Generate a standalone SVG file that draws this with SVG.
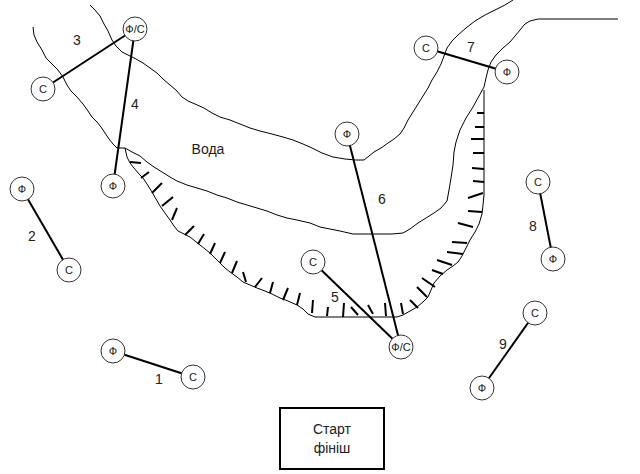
<svg xmlns="http://www.w3.org/2000/svg" width="640" height="474" viewBox="0 0 640 474">
<style>
.bank{fill:none;stroke:#000;stroke-width:1;stroke-linejoin:round}
.hach{fill:none;stroke:#000;stroke-width:2;stroke-linecap:butt}
.con{stroke:#000;stroke-width:2}
.node circle{fill:#fff;stroke:#333;stroke-width:1}
.ntxt{font-family:"Liberation Sans",Arial,sans-serif;font-size:11px;fill:#222;text-anchor:middle}
.lbl{font-family:"Liberation Sans",Arial,sans-serif;font-size:14px;fill:#222;text-anchor:middle}
.box{fill:#fff;stroke:#000;stroke-width:2}
</style>
<rect width="640" height="474" fill="#fff"/>
<g id="river">
<path class="bank" d="M90,5 L95,10 100,16 104,24 108,31 112,40 116,46 122,52 130,56 136,59 143,63 150,68 157,73 163,79 170,85 176,90 182,97 188,101 195,104 204,108 212,113 220,117 230,120 240,124 250,128 260,131 272,134 283,137 293,140 303,144 312,148 322,153 333,157 345,159 356,160 364,160 369,156 374,152 381,148 388,143 394,139 400,134 404,128 408,120 413,112 418,104 423,96 428,88 432,80 437,72 441,64 444,56 447,48 452,41 458,35 466,28 475,21 485,15 495,10 505,5 513,0"/>
<path class="bank" d="M33,27 L34,35 37,42 42,50 46,58 52,64 58,70 63,77 67,85 71,91 77,97 83,104 88,111 92,117 97,122 101,127 105,133 109,139 113,144 117,148 125,148 132,152 140,156 147,162 154,167 162,172 170,177 177,181 187,185 197,188 207,191 217,195 227,198 237,202 247,205 257,208 267,211 277,215 287,218 297,220 310,223 320,227 330,229 340,231 353,234 365,234 380,234 392,234 403,233 410,229 418,223 426,218 434,213 441,208 447,201 449,190 451,178 453,165 454,152 456,142 460,130 466,118 473,107 479,96 484,87 486,78 488,70 491,62 496,55 503,48 510,42 515,36 520,30 525,24 530,21 538,19 L618,19"/>
<path class="bank" d="M125,148 L127,157 130,163 134,168 139,174 143,178 147,184 152,192 156,199 160,206 165,213 170,220 174,226 178,231 184,234 190,237 195,241 200,245 205,249 210,253 215,258 220,263 225,268 230,272 237,277 243,282 250,285 257,288 265,291 272,294 280,298 288,301 297,305 303,309 308,314 315,317 L397,317 403,315 410,311 417,307 423,302 428,297 431,290 434,283 440,276 447,270 453,266 458,262 462,256 466,248 470,240 475,232 479,224 482,214 483,205 484,195 484,180 484,160 484,140 484,120 484,100 484,90"/>
<path class="hach" d="M130,162 L141,163 M141,178 L149,172 M152,193 L162,183 M162,206 L173,197 M172,220 L177,208 M185,235 L194,226 M198,244 L204,234 M210,254 L215,243 M220,263 L225,252 M232,273 L237,261 M243,272 L246,282 M255,287 L262,278 M270,293 L273,282 M283,300 L288,288 M297,305 L300,293 M312,313 L313,300 M327,316 L328,307 M343,317 L344,303 M351,307 L358,315 M368,305 L373,314 M385,303 L386,316 M401,303 L403,314 M410,300 L418,308 M417,287 L427,297 M422,278 L435,287 M432,270 L443,274 M437,260 L452,265 M447,252 L463,254 M452,242 L467,243 M458,223 L473,227 M468,211 L482,212 M468,198 L483,193 M473,181 L484,182 M472,168 L484,169 M473,153 L484,153 M471,139 L484,139 M475,127 L484,127 M477,113 L484,113"/>
</g>
<g id="connectors">
<line class="con" x1="43" y1="89" x2="135" y2="29"/>
<line class="con" x1="135" y1="29" x2="113" y2="186"/>
<line class="con" x1="22" y1="189" x2="69" y2="270"/>
<line class="con" x1="113" y1="351" x2="193" y2="377"/>
<line class="con" x1="313" y1="262" x2="401" y2="347"/>
<line class="con" x1="347" y1="134" x2="401" y2="347"/>
<line class="con" x1="426" y1="48" x2="507" y2="72"/>
<line class="con" x1="538" y1="182" x2="553" y2="259"/>
<line class="con" x1="535" y1="313" x2="482" y2="388"/>
</g>
<g id="n3c" class="node"><circle cx="43" cy="89" r="12"/><text class="ntxt" x="43" y="93">С</text></g>
<g id="n34" class="node"><circle cx="135" cy="29" r="12"/><text class="ntxt" x="135" y="33">Ф/С</text></g>
<g id="n4f" class="node"><circle cx="113" cy="186" r="12"/><text class="ntxt" x="113" y="190" font-size="10">Ф</text></g>
<g id="n2f" class="node"><circle cx="22" cy="189" r="12"/><text class="ntxt" x="22" y="193" font-size="10">Ф</text></g>
<g id="n2c" class="node"><circle cx="69" cy="270" r="12"/><text class="ntxt" x="69" y="274">С</text></g>
<g id="n1f" class="node"><circle cx="113" cy="351" r="12"/><text class="ntxt" x="113" y="355" font-size="10">Ф</text></g>
<g id="n1c" class="node"><circle cx="193" cy="377" r="12"/><text class="ntxt" x="193" y="381">С</text></g>
<g id="n5c" class="node"><circle cx="313" cy="262" r="12"/><text class="ntxt" x="313" y="266">С</text></g>
<g id="n56" class="node"><circle cx="401" cy="347" r="12"/><text class="ntxt" x="401" y="351">Ф/С</text></g>
<g id="n6f" class="node"><circle cx="347" cy="134" r="12"/><text class="ntxt" x="347" y="138" font-size="10">Ф</text></g>
<g id="n7c" class="node"><circle cx="426" cy="48" r="12"/><text class="ntxt" x="426" y="52">С</text></g>
<g id="n7f" class="node"><circle cx="507" cy="72" r="12"/><text class="ntxt" x="507" y="76" font-size="10">Ф</text></g>
<g id="n8c" class="node"><circle cx="538" cy="182" r="12"/><text class="ntxt" x="538" y="186">С</text></g>
<g id="n8f" class="node"><circle cx="553" cy="259" r="12"/><text class="ntxt" x="553" y="263" font-size="10">Ф</text></g>
<g id="n9c" class="node"><circle cx="535" cy="313" r="12"/><text class="ntxt" x="535" y="317">С</text></g>
<g id="n9f" class="node"><circle cx="482" cy="388" r="12"/><text class="ntxt" x="482" y="392" font-size="10">Ф</text></g>
<g id="start">
<rect class="box" x="280" y="408" width="104" height="61"/>
<text class="lbl" x="332" y="434" font-size="15">Старт</text>
<text class="lbl" x="332" y="453" font-size="15">фініш</text>
</g>
<g id="labels">
<text class="lbl" x="77" y="45">3</text>
<text class="lbl" x="135" y="109">4</text>
<text class="lbl" x="208" y="154" font-size="15">Вода</text>
<text class="lbl" x="32" y="241">2</text>
<text class="lbl" x="159" y="384">1</text>
<text class="lbl" x="335" y="302">5</text>
<text class="lbl" x="382" y="204">6</text>
<text class="lbl" x="471" y="52">7</text>
<text class="lbl" x="533" y="231">8</text>
<text class="lbl" x="503" y="349">9</text>
</g>
</svg>
